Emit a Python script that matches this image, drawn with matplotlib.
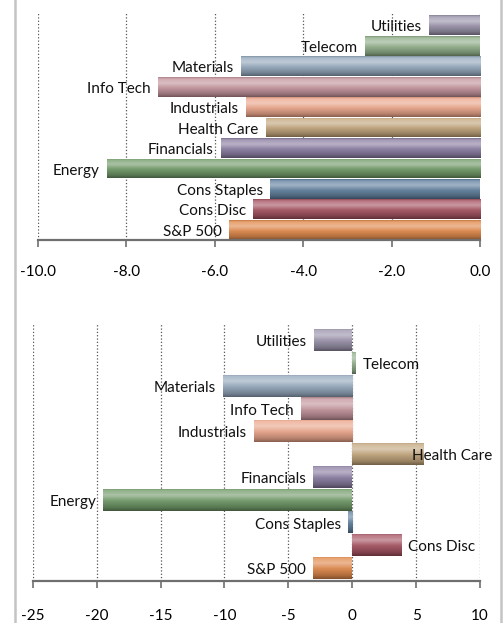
import numpy as np
import matplotlib
matplotlib.use("Agg")
import matplotlib.pyplot as plt
from matplotlib.colors import to_rgb
from matplotlib.lines import Line2D

plt.rcParams['font.family'] = ['Lato', 'DejaVu Sans']

sectors = ["S&P 500", "Cons Disc", "Cons Staples", "Energy", "Financials",
           "Health Care", "Industrials", "Info Tech", "Materials", "Telecom", "Utilities"]
top_values = [-5.69, -5.14, -4.75, -8.45, -5.87, -4.85, -5.30, -7.29, -5.41, -2.60, -1.15]
bottom_values = [-3.05, 3.86, -0.36, -19.48, -3.05, 5.56, -7.69, -4.04, -10.14, 0.25, -2.97]
bar_colors = ["#e38848", "#a5505f", "#5f7f9e", "#6f9a66", "#8a7ca2",
              "#c3a57a", "#eea68a", "#c4939b", "#93a8bd", "#8fae88", "#9a92ab"]
top_ticks = [-10.0, -8.0, -6.0, -4.0, -2.0, 0.0]
bottom_ticks = [-25, -20, -15, -10, -5, 0, 5, 10]

size = 11


def glossy(ax, patch, color):
    # vertical shading to mimic the glossy excel bars
    x, y = patch.get_x(), patch.get_y()
    w, h = patch.get_width(), patch.get_height()
    t = np.linspace(0, 1, 40)
    light = np.interp(t, [0, 0.08, 0.3, 0.55, 1.0], [0.05, 0.22, 0.42, 0.08, 0.0])
    dark = np.interp(t, [0, 0.08, 0.55, 0.85, 1.0], [0.85, 1.0, 0.95, 0.76, 0.58])
    base = np.array(to_rgb(color))
    rows = base[None, :] * dark[:, None]
    rows = rows + (1 - rows) * light[:, None]
    img = np.repeat(rows[:, None, :], 2, axis=1)
    im = ax.imshow(img, extent=[x, x + w, y, y + h], origin='upper',
                   aspect='auto', interpolation='bilinear', zorder=2)
    im.set_clip_path(patch)


def draw_panel(ax, values, ticks, fmt, ylim, labelpad):
    pos = np.arange(len(sectors))
    bars = ax.barh(pos, values, height=0.97, color=bar_colors, zorder=2)
    for b, c in zip(bars, bar_colors):
        glossy(ax, b, c)
    labels = []
    for p, v, name in zip(pos, values, sectors):
        if v < 0:
            a = ax.annotate(name, (v, p), xytext=(-5, -1.5), textcoords='offset points',
                            ha='right', va='center', fontsize=size, color='#111111')
        else:
            a = ax.annotate(name, (v, p), xytext=(5, -1.5), textcoords='offset points',
                            ha='left', va='center', fontsize=size, color='#111111')
        labels.append(a)
    ax.set_xlim(ticks[0], ticks[-1])
    ax.set_ylim(*ylim)
    ax.set_xticks(ticks)
    ax.set_xticklabels([fmt.format(t) for t in ticks], fontsize=size)
    ax.set_yticks([])
    for s in ['left', 'right', 'top']:
        ax.spines[s].set_visible(False)
    ax.spines['bottom'].set_color('#6f6f6f')
    ax.spines['bottom'].set_linewidth(1.6)
    ax.tick_params(axis='x', length=5, width=1.2, color='#6f6f6f', pad=labelpad)
    ax.xaxis.grid(True, linestyle=':', color='#555555', linewidth=0.9, zorder=0)
    ax.set_axisbelow(True)
    return labels


fig = plt.figure(figsize=(5.04, 6.23), dpi=100)
ax1 = fig.add_axes([38 / 504, 383 / 623, 442 / 504, 228 / 623])
ax2 = fig.add_axes([32.7 / 504, 42 / 623, 447.3 / 504, 258 / 623])

labs = draw_panel(ax1, top_values, top_ticks, "{:.1f}", (-0.5, 10.65), 13)
labs += draw_panel(ax2, bottom_values, bottom_ticks, "{:d}", (-0.57, 10.75), 15)

# like excel, pull labels back in when they would run past the right edge
fig.canvas.draw()
limit = 492
for a in labs:
    bb = a.get_window_extent()
    if bb.x1 > limit:
        dx = (bb.x1 - limit) * 72 / fig.dpi
        a.xyann = (a.xyann[0] - dx, a.xyann[1])

# frame lines of the original slide
fig.add_artist(Line2D([15 / 504, 15 / 504], [0, 1], color='#c4c4c4', linewidth=1.8))
fig.add_artist(Line2D([501 / 504, 501 / 504], [0, 1], color='#c4c4c4', linewidth=1.8))

fig.savefig("out.png", dpi=100)
